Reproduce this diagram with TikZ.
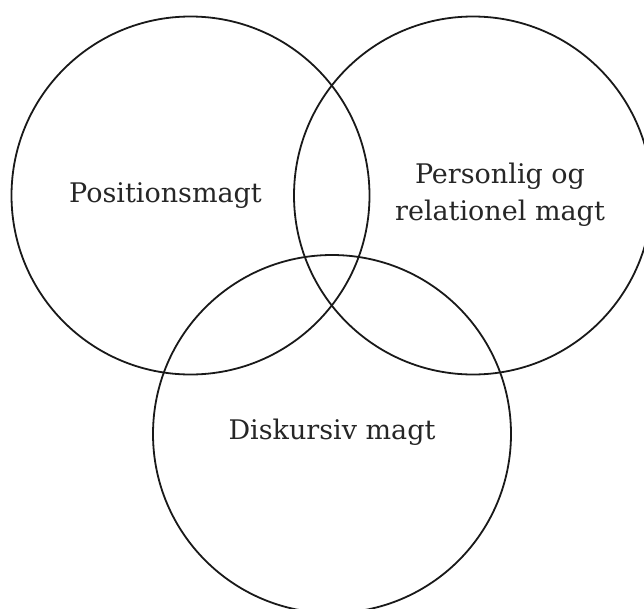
\documentclass[tikz,border=0pt]{standalone}
\usepackage{fontspec}
\setmainfont{DejaVu Serif}
\usetikzlibrary{shapes.geometric}
\tikzstyle{powercircle} = [circle, draw=black!90, line width=1.8pt, minimum size=358pt, inner sep=0pt]
\tikzstyle{powertext} = [text=black!85, font=\fontsize{27}{37}\selectfont, align=center]

\begin{document}
\begin{tikzpicture}[x=1pt, y=-1pt]
\useasboundingbox (0,0) rectangle (644,608);
\clip (0,0) rectangle (644,608);

% Circles
\node (Pos) [powercircle] at (190.5,195.5) {};
\node (Rel) [powercircle] at (473,195.5) {};
\node (Dis) [powercircle] at (332,434) {};

% Labels
\node (PosT) [powertext, xshift=-25pt] at (Pos) {Positionsmagt};
\node (RelT) [powertext, xshift=27pt, yshift=1pt] at (Rel) {Personlig og\\relationel magt};
\node (DisT) [powertext, yshift=2pt] at (Dis) {Diskursiv magt};

\end{tikzpicture}
\end{document}
